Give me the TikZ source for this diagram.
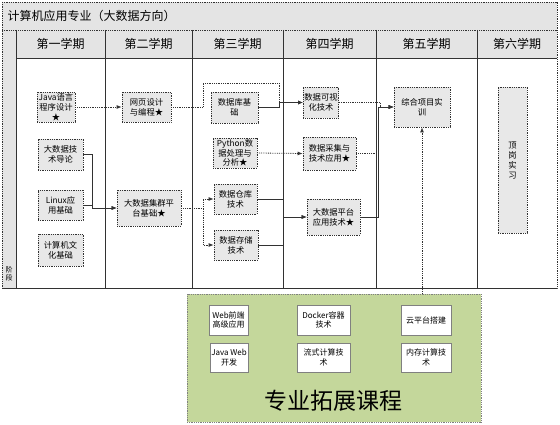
\documentclass[tikz,border=0pt]{standalone}
\usepackage{fontspec}
\setmainfont{Noto Sans CJK SC}
\usetikzlibrary{arrows.meta}
\definecolor{bandgray}{RGB}{228,228,228}
\definecolor{boxgray}{RGB}{232,232,232}
\definecolor{greenbg}{RGB}{196,215,155}
\definecolor{linedark}{RGB}{50,50,50}
\begin{document}
\begin{tikzpicture}[x=1pt,y=-1pt,
  box/.style={draw=linedark, densely dotted, thick, fill=boxgray, align=center,
    font=\fontsize{8.3}{9.8}\selectfont, inner sep=1pt},
  wbox/.style={draw=gray, thick, fill=white, align=center,
    font=\fontsize{8}{9.5}\selectfont, inner sep=1pt},
  head/.style={font=\fontsize{12}{14}\selectfont, anchor=center},
  dl/.style={densely dotted, thick, draw=linedark, -{Latex[length=5pt,width=4pt]}},
  sl/.style={thick, draw=linedark, -{Latex[length=5pt,width=4pt]}},
  frameline/.style={draw=linedark, densely dotted, thick},
  colline/.style={draw=linedark, thick}
]
\useasboundingbox (0,0) rectangle (560,425);
% frame
\fill[bandgray] (2,2) rectangle (557,58);
\fill[white] (16,58) rectangle (557,288);
\fill[bandgray] (2,30) rectangle (16,288);
\draw[frameline] (2,2) rectangle (557,288);
\draw[frameline] (2,30) -- (557,30);
\draw[colline] (16,58) -- (557,58);
\foreach \x in {16,105,192,283,376,477} \draw[colline] (\x,30) -- (\x,288);
\draw[colline] (2,288) -- (557,288);
\node[anchor=west, font=\fontsize{12}{14}\selectfont] (title) at (4,16) {计算机应用专业（大数据方向）};
\node[head] (h1) at (60.5,44) {第一学期};
\node[head] (h2) at (148.5,44) {第二学期};
\node[head] (h3) at (237.5,44) {第三学期};
\node[head] (h4) at (329.5,44) {第四学期};
\node[head] (h5) at (426.5,44) {第五学期};
\node[head] (h6) at (517,44) {第六学期};
\node[align=center, font=\fontsize{7}{8}\selectfont, inner sep=0pt] (lane) at (9,274) {阶\\段};

% column 1
\node[box, minimum width=38, minimum height=30] (java) at (56,107) {Java语言\\程序设计\\★};
\node[box, minimum width=45, minimum height=31] (dl) at (60.5,154.5) {大数据技\\术导论};
\node[box, minimum width=45, minimum height=30] (lx) at (60.5,205) {Linux应\\用基础};
\node[box, minimum width=45, minimum height=32] (jsj) at (60.5,250) {计算机文\\化基础};
% column 2
\node[box, minimum width=49, minimum height=30] (wy) at (146.5,107) {网页设计\\与编程★};
\node[box, minimum width=64, minimum height=36] (jq) at (149,208) {大数据集群平\\台基础★};
% column 3
\node[box, minimum width=47, minimum height=31] (sjk) at (234.5,107.5) {数据库基\\础};
\node[box, minimum width=44, minimum height=30] (py) at (235,153) {Python数\\据处理与\\分析★};
\node[box, minimum width=43, minimum height=30] (ck) at (235.5,199) {数据仓库\\技术};
\node[box, minimum width=44, minimum height=30] (cc) at (236,245) {数据存储\\技术};
% column 4
\node[box, minimum width=34, minimum height=31] (kv) at (321,102.5) {数据可视\\化技术};
\node[box, minimum width=53, minimum height=33] (cj) at (329.5,153.5) {数据采集与\\技术应用★};
\node[box, minimum width=53, minimum height=36] (pt) at (333.5,217) {大数据平台\\应用技术★};
% column 5
\node[box, minimum width=56, minimum height=40] (zh) at (422,107) {综合项目实\\训};
% column 6
\node[box, minimum width=29, minimum height=146, text depth=0pt] (dg) at (512.5,160) {顶\\岗\\实\\习};

% extension courses
\node[draw=gray, densely dotted, thick, fill=greenbg, minimum width=294, minimum height=128, inner sep=0pt] (ext) at (334,358) {};
\node[font=\fontsize{23}{25}\selectfont] (extlabel) at (333,401) {专业拓展课程};
\node[wbox, minimum width=39, minimum height=30] (web) at (228.5,320) {Web前端\\高级应用};
\node[wbox, minimum width=53, minimum height=30] (dk) at (323.5,320) {Docker容器\\技术};
\node[wbox, minimum width=50, minimum height=30] (ypt) at (426,320) {云平台搭建};
\node[wbox, minimum width=38, minimum height=29] (jw) at (229,357.5) {Java Web\\开发};
\node[wbox, minimum width=53, minimum height=29] (ls) at (323.5,357.5) {流式计算技\\术};
\node[wbox, minimum width=50, minimum height=29] (nc) at (426,357.5) {内存计算技\\术};

% connectors
\draw[dl] (java.east) -- (wy.west);
\draw[dl] (wy.east) -- ++(32,0) |- (279,83) |- (kv.west);
\draw[sl] (sjk.east) -- ++(21,0) |- (kv.west);
\draw[dl] (kv.east) -- ++(41,0) |- (zh.west);
\draw[dl] (cj.east) -- ++(22,0) |- (zh.west);
\draw[sl] (pt.east) -- ++(18,0) |- (zh.west);
\draw[dl] (zh.south |- ext.north) -- (zh.south);
\draw[sl] (dl.east) -- ++(9,0) |- (jq.west);
\draw[sl] (lx.east) -- ++(9,0) |- (jq.west);
\draw[dl] (jq.east) -- ++(22,0) |- (ck.west);
\draw[dl] (jq.east) -- ++(22,0) |- (cc.west);
\draw[sl] (ck.east) -- ++(26,0) |- (pt.west);
\draw[sl] (cc.east) -- ++(25,0) |- (pt.west);
\draw[dl] (py.east) -- (cj.west);
\end{tikzpicture}
\end{document}
